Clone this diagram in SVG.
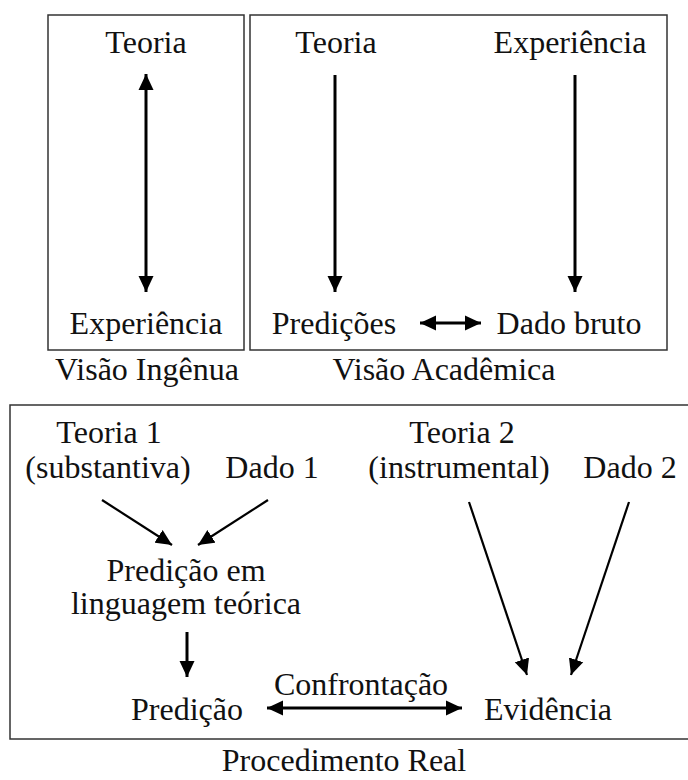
<svg xmlns="http://www.w3.org/2000/svg" width="688" height="780" viewBox="0 0 688 780">
<style>
.box{fill:none;stroke:#333;stroke-width:1.5}
.a{stroke:#000;stroke-width:3;fill:none}
.t{stroke:#000;stroke-width:2.2;fill:none}
</style>
<defs>
<marker id="ah" markerUnits="userSpaceOnUse" markerWidth="17" markerHeight="16" viewBox="0 0 17 16" refX="16" refY="8" orient="auto-start-reverse">
<path d="M0,0.5 L16,8 L0,15.5 z" fill="#000"/>
</marker>
</defs>
<rect width="688" height="780" fill="#fff"/>
<g id="frames">
<rect class="box" x="48" y="15" width="196" height="335"/>
<rect class="box" x="250" y="15" width="417" height="335"/>
<rect class="box" x="10" y="405" width="685" height="334"/>
</g>
<g id="nodes" font-family="Liberation Serif" font-size="32" text-anchor="middle" fill="#111">
<g id="n-teoria-ing"><text x="146" y="53">Teoria</text></g>
<g id="n-exp-ing"><text x="146" y="334">Experiência</text></g>
<g id="n-visao-ing"><text x="147" y="380">Visão Ingênua</text></g>
<g id="n-teoria-ac"><text x="336" y="53">Teoria</text></g>
<g id="n-exp-ac"><text x="570" y="53">Experiência</text></g>
<g id="n-pred-ac"><text x="334" y="334">Predições</text></g>
<g id="n-dado-bruto"><text x="569" y="334">Dado bruto</text></g>
<g id="n-visao-ac"><text x="444" y="380">Visão Acadêmica</text></g>
<g id="n-teoria1"><text x="109" y="443">Teoria 1</text><text x="108" y="478">(substantiva)</text></g>
<g id="n-dado1"><text x="272" y="478">Dado 1</text></g>
<g id="n-pred-ling"><text x="186" y="581">Predição em</text><text x="186" y="614">linguagem teórica</text></g>
<g id="n-pred"><text x="187" y="720">Predição</text></g>
<g id="n-conf"><text x="361" y="695">Confrontação</text></g>
<g id="n-evid"><text x="548" y="720">Evidência</text></g>
<g id="n-teoria2"><text x="462" y="443">Teoria 2</text><text x="459" y="478">(instrumental)</text></g>
<g id="n-dado2"><text x="630" y="478">Dado 2</text></g>
<g id="n-proc"><text x="344" y="771">Procedimento Real</text></g>
</g>
<g id="connectors">
<line class="a" x1="146" y1="74" x2="146" y2="292" marker-start="url(#ah)" marker-end="url(#ah)"/>
<line class="a" x1="335" y1="75" x2="335" y2="292" marker-end="url(#ah)"/>
<line class="a" x1="575" y1="75" x2="575" y2="292" marker-end="url(#ah)"/>
<line class="a" x1="420" y1="323" x2="481" y2="323" marker-start="url(#ah)" marker-end="url(#ah)"/>
<line class="t" x1="102" y1="500" x2="172" y2="545" marker-end="url(#ah)"/>
<line class="t" x1="268" y1="500" x2="198" y2="545" marker-end="url(#ah)"/>
<line class="a" x1="187" y1="632" x2="187" y2="677" marker-end="url(#ah)"/>
<line class="a" x1="267" y1="708" x2="462" y2="708" marker-start="url(#ah)" marker-end="url(#ah)"/>
<line class="t" x1="469" y1="502" x2="527" y2="675" marker-end="url(#ah)"/>
<line class="t" x1="629" y1="502" x2="571" y2="675" marker-end="url(#ah)"/>
</g>
</svg>
